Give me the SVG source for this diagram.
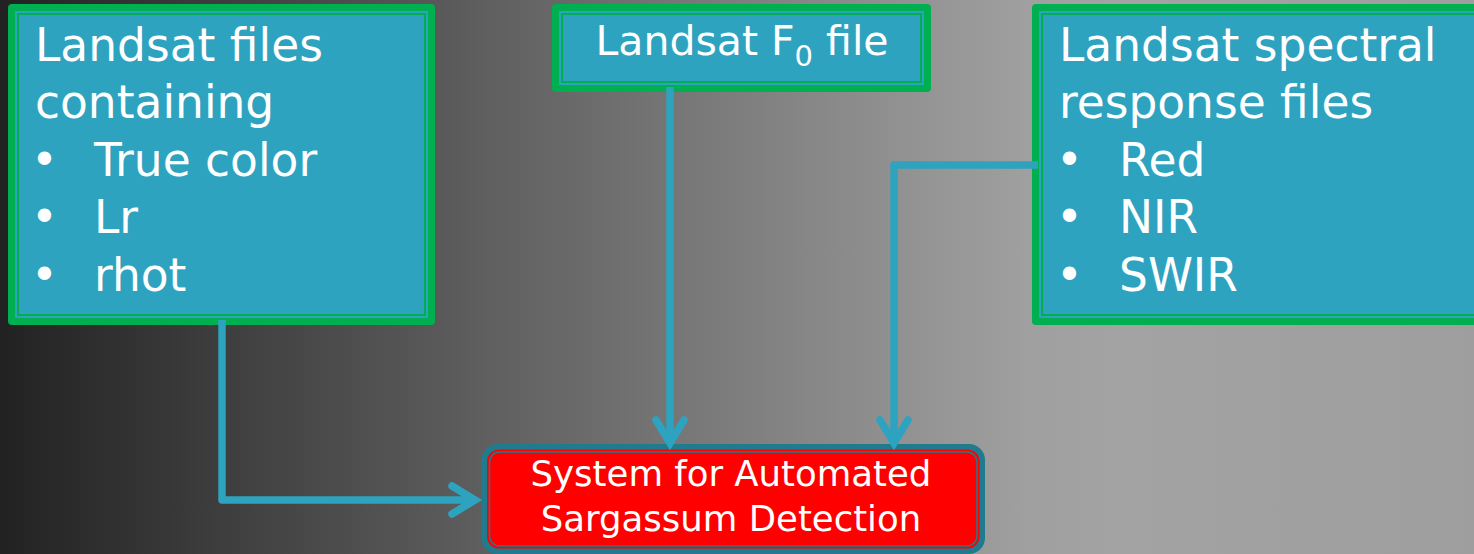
<svg xmlns="http://www.w3.org/2000/svg" width="1474" height="554" viewBox="0 0 1474 554">
<defs>
<linearGradient id="bg" x1="0" y1="0" x2="1474" y2="0" gradientUnits="userSpaceOnUse">
<stop offset="0" stop-color="#222222"/>
<stop offset="0.33" stop-color="#5f5f5f"/>
<stop offset="0.58" stop-color="#8c8c8c"/>
<stop offset="0.70" stop-color="#a0a0a0"/>
<stop offset="0.76" stop-color="#a3a3a3"/>
<stop offset="1" stop-color="#9e9e9e"/>
</linearGradient>
<marker id="arr" markerUnits="userSpaceOnUse" viewBox="-40 -30 60 60" markerWidth="60" markerHeight="60" refX="0" refY="0" orient="auto" overflow="visible">
<path d="M-23,-14 L0,0 L-23,14" fill="none" stroke="#2ea3bf" stroke-width="7.5" stroke-linecap="round" stroke-linejoin="miter"/>
</marker>
</defs>
<style>
.outer{fill:#00b050}
.inner{fill:#2ea3bf}
.thin{fill:none;stroke:#00b050;stroke-width:2}
.t{font-family:"DejaVu Sans","Liberation Sans",sans-serif;fill:#ffffff}
.big{font-size:45.5px}
.conn{fill:none;stroke:#2ea3bf;stroke-width:7.5;stroke-linejoin:round;stroke-linecap:butt}
</style>
<rect x="0" y="0" width="1474" height="554" fill="url(#bg)"/>

<g id="node-landsat-files">
<rect class="outer" x="8" y="4" width="427" height="321" rx="4"/>
<rect class="inner" x="15" y="11" width="413" height="307"/>
<rect class="thin" x="18" y="14" width="407" height="301"/>
<text class="t big" x="35" y="61">Landsat files</text>
<text class="t big" x="35" y="118">containing</text>
<text class="t big" y="176"><tspan x="31">•</tspan><tspan x="94">True color</tspan></text>
<text class="t big" y="233"><tspan x="31">•</tspan><tspan x="94">Lr</tspan></text>
<text class="t big" y="291"><tspan x="31">•</tspan><tspan x="94">rhot</tspan></text>
</g>

<g id="node-f0-file">
<rect class="outer" x="552" y="4" width="379" height="88" rx="4"/>
<rect class="inner" x="559" y="11" width="365" height="74"/>
<rect class="thin" x="562" y="14" width="359" height="68"/>
<text class="t" x="742" y="55" font-size="41" text-anchor="middle">Landsat F<tspan font-size="29" dy="11">0</tspan><tspan dy="-11"> file</tspan></text>
</g>

<g id="node-spectral">
<rect class="outer" x="1032" y="4" width="460" height="321" rx="4"/>
<rect class="inner" x="1039" y="11" width="446" height="307"/>
<rect class="thin" x="1042" y="14" width="440" height="301"/>
<text class="t big" x="1059" y="61">Landsat spectral</text>
<text class="t big" x="1059" y="118">response files</text>
<text class="t big" y="176"><tspan x="1056">•</tspan><tspan x="1119">Red</tspan></text>
<text class="t big" y="233"><tspan x="1056">•</tspan><tspan x="1119">NIR</tspan></text>
<text class="t big" y="291"><tspan x="1056">•</tspan><tspan x="1119">SWIR</tspan></text>
</g>

<g id="node-system">
<rect x="481.5" y="444" width="503.5" height="110" rx="16" fill="#217b8f"/>
<rect x="487" y="449.5" width="492.5" height="99" rx="12" fill="#ff0000"/>
<rect x="489.5" y="452" width="487.5" height="94" rx="10" fill="none" stroke="#217b8f" stroke-width="1.5"/>
<text class="t" x="731" y="486" font-size="35.5" text-anchor="middle">System for Automated</text>
<text class="t" x="731" y="531" font-size="35.5" text-anchor="middle">Sargassum Detection</text>
</g>

<g id="connectors">
<path class="conn" d="M222,320 V500 H475" marker-end="url(#arr)"/>
<path class="conn" d="M670,87 V443" marker-end="url(#arr)"/>
<path class="conn" d="M1038,165 H894 V443" marker-end="url(#arr)"/>
</g>
</svg>
